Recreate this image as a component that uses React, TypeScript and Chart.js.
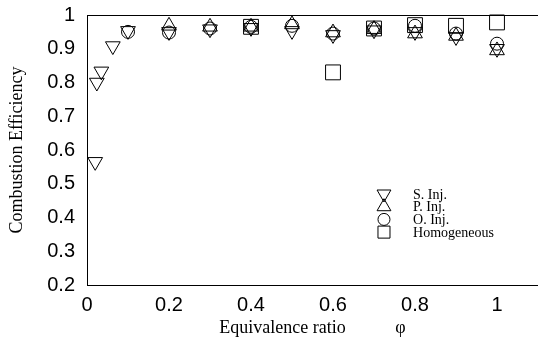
import { useEffect, useRef } from 'react';
import { Chart, registerables, ScatterController } from 'chart.js';
import { drawPoint } from 'chart.js/helpers';

Chart.register(...registerables);

class FlatScatter extends (ScatterController as any) {
  static id = 'flatScatter';
  static defaults = { ...(ScatterController as any).defaults };
  static overrides = (ScatterController as any).overrides;
  getMaxOverflow() {
    return 0;
  }
}
Chart.register(FlatScatter as any);

const seriesNames = ['S. Inj.', 'P. Inj.', 'O. Inj.', 'Homogeneous'];

const sInjPhi = [0.02, 0.024, 0.035, 0.063, 0.1, 0.2, 0.3, 0.4, 0.5, 0.6, 0.7, 0.8, 0.9, 1.0];
const sInjEff = [0.565, 0.8, 0.833, 0.908, 0.953, 0.95, 0.958, 0.962, 0.953, 0.941, 0.955, 0.95, 0.935, 0.9];

const pInjPhi = [0.2, 0.3, 0.4, 0.5, 0.6, 0.7, 0.8, 0.9, 1.0];
const pInjEff = [0.968, 0.965, 0.965, 0.972, 0.948, 0.958, 0.945, 0.938, 0.895];

const oInjPhi = [0.1, 0.2, 0.3, 0.4, 0.5, 0.6, 0.7, 0.8, 0.9, 1.0];
const oInjEff = [0.95, 0.948, 0.96, 0.965, 0.968, 0.945, 0.96, 0.968, 0.945, 0.915];

const homPhi = [0.4, 0.6, 0.7, 0.8, 0.9, 1.0];
const homEff = [0.965, 0.83, 0.96, 0.97, 0.968, 0.978];

const xTickValues = [0, 0.2, 0.4, 0.6, 0.8, 1];
const xTickLabels = ['0', '0.2', '0.4', '0.6', '0.8', '1'];
const yTickValues = [0.2, 0.3, 0.4, 0.5, 0.6, 0.7, 0.8, 0.9, 1];
const yTickLabels = ['0.2', '0.3', '0.4', '0.5', '0.6', '0.7', '0.8', '0.9', '1'];

const pts = (xs: number[], ys: number[]) => xs.map((x, i) => ({ x, y: ys[i] }));

const insideLegend = {
  id: 'insideLegend',
  afterDatasetsDraw(chart: any) {
    const { ctx, chartArea } = chart;
    const w = chartArea.right - chartArea.left;
    const h = chartArea.bottom - chartArea.top;
    const mx = chartArea.left + w * 0.6585;
    const tx = chartArea.left + w * 0.723;
    const y0 = chartArea.top + h * 0.663;
    const step = 12.7;
    ctx.save();
    chart.data.datasets.forEach((ds: any, i: number) => {
      const y = y0 + i * step;
      ctx.strokeStyle = '#000';
      ctx.fillStyle = 'rgba(0,0,0,0)';
      ctx.lineWidth = 1;
      drawPoint(ctx, {
        pointStyle: ds.pointStyle,
        rotation: ds.pointRotation || 0,
        radius: ds.legendRadius,
        borderWidth: 1,
      } as any, mx, y);
      ctx.fillStyle = '#000';
      ctx.font = '14px "Liberation Serif"';
      ctx.textBaseline = 'middle';
      ctx.textAlign = 'left';
      ctx.fillText(ds.label, tx, y + 1);
    });
    ctx.restore();
  },
};

const noPadding = (s: any) => {
  s.paddingLeft = 0;
  s.paddingRight = 0;
  s.paddingTop = 0;
  s.paddingBottom = 0;
};

export default function App() {
  const ref = useRef<HTMLCanvasElement | null>(null);
  useEffect(() => {
    if (!ref.current) return;
    const common = {
      showLine: false,
      borderColor: '#000',
      backgroundColor: 'rgba(0,0,0,0)',
      pointBorderColor: '#000',
      pointBackgroundColor: 'rgba(0,0,0,0)',
      pointBorderWidth: 1,
      clip: false,
    };
    const chart = new Chart(ref.current, {
      type: 'flatScatter' as any,
      data: {
        datasets: [
          { ...common, label: seriesNames[0], data: pts(sInjPhi, sInjEff), pointStyle: 'triangle', pointRotation: 180, pointRadius: 8.5, legendRadius: 8 },
          { ...common, label: seriesNames[1], data: pts(pInjPhi, pInjEff), pointStyle: 'triangle', pointRotation: 0, pointRadius: 8.5, legendRadius: 8 },
          { ...common, label: seriesNames[2], data: pts(oInjPhi, oInjEff), pointStyle: 'circle', pointRadius: 6.5, legendRadius: 6 },
          { ...common, label: seriesNames[3], data: pts(homPhi, homEff), pointStyle: 'rect', pointRadius: 10.5, legendRadius: 8.5 },
        ] as any,
      },
      options: {
        animation: false,
        responsive: false,
        events: [],
        layout: { padding: 0 },
        plugins: { legend: { display: false }, tooltip: { enabled: false } },
        scales: {
          x: {
            type: 'linear',
            position: 'bottom',
            min: 0,
            max: 1.1,
            afterBuildTicks: (s: any) => { s.ticks = xTickValues.map((v) => ({ value: v })); },
            afterFit: (s: any) => { s.height = 59; noPadding(s); },
            ticks: {
              callback: (_v: any, i: number) => xTickLabels[i],
              font: { family: '"Liberation Sans"', size: 20 },
              color: '#000',
              padding: 8,
              maxRotation: 0,
              autoSkip: false,
            },
            grid: { display: false, drawTicks: false },
            border: { display: true, color: '#000', width: 1 },
            title: {
              display: true,
              text: 'Equivalence ratio           \u03c6',
              font: { family: '"Liberation Serif"', size: 18 },
              color: '#000',
              padding: { top: 0, bottom: 5 },
            },
          },
          xTop: {
            type: 'linear',
            position: 'top',
            min: 0,
            max: 1.1,
            afterFit: (s: any) => { s.height = 15; noPadding(s); },
            ticks: { display: false },
            grid: { display: false, drawTicks: false },
            border: { display: true, color: '#000', width: 1 },
          },
          y: {
            type: 'linear',
            position: 'left',
            min: 0.2,
            max: 1,
            afterBuildTicks: (s: any) => { s.ticks = yTickValues.map((v) => ({ value: v })); },
            afterFit: (s: any) => { s.width = 87; noPadding(s); },
            ticks: {
              callback: (_v: any, i: number) => yTickLabels[i],
              font: { family: '"Liberation Sans"', size: 20 },
              color: '#000',
              padding: 12,
              autoSkip: false,
            },
            grid: { display: false, drawTicks: false },
            border: { display: true, color: '#000', width: 1 },
            title: {
              display: true,
              text: 'Combustion Efficiency',
              font: { family: '"Liberation Serif"', size: 18 },
              color: '#000',
              padding: { top: 6, bottom: 0 },
            },
          },
        },
      } as any,
      plugins: [insideLegend],
    });
    return () => chart.destroy();
  }, []);
  return (
    <div style={{ position: 'absolute', left: 0, top: 0, width: 538, height: 344, background: '#fff' }}>
      <canvas ref={ref} width={538} height={344} />
    </div>
  );
}
